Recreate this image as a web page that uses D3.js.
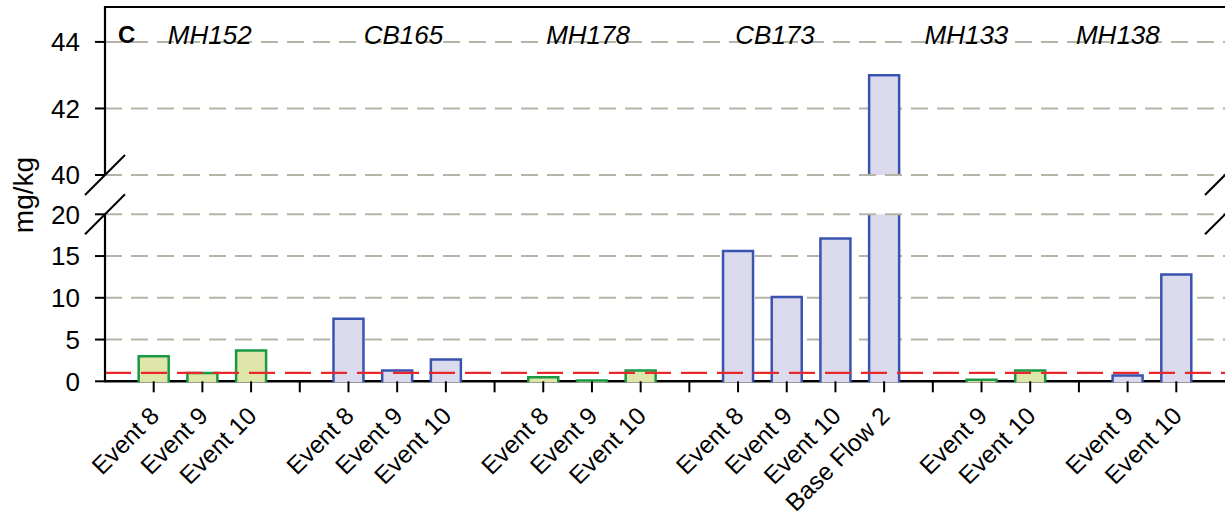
<!DOCTYPE html>
<html><head><meta charset="utf-8">
<script src="https://cdn.jsdelivr.net/npm/d3@7"></script>
<style>body{margin:0;background:#fff}svg{display:block;font-family:"Liberation Sans",Arial,sans-serif}</style>
</head><body>
<svg id="c" width="1225" height="518"></svg>
<script>
// ---- data ----
const groups = ["MH152","CB165","MH178","CB173","MH133","MH138"];
const groupType = ["green","blue","green","blue","green","blue"];
const groupEvents = [
  ["Event 8","Event 9","Event 10"],
  ["Event 8","Event 9","Event 10"],
  ["Event 8","Event 9","Event 10"],
  ["Event 8","Event 9","Event 10","Base Flow 2"],
  ["Event 9","Event 10"],
  ["Event 9","Event 10"]
];
const groupValues = [
  [3.0, 1.0, 3.7],
  [7.5, 1.3, 2.6],
  [0.5, 0.1, 1.3],
  [15.6, 10.1, 17.1, 43.0],
  [0.2, 1.3],
  [0.7, 12.8]
];
const lowerTicks = [0,5,10,15,20];
const upperTicks = [40,42,44];
const referenceLevel = 1;
const panelLabel = "C";
const yTitle = "mg/kg";

// ---- layout ----
const svg = d3.select("#c");
const L = 105, R = 1225, T = 7;
const colors = {
  green:{fill:"#dfe6a9", stroke:"#1a9945"},
  blue:{fill:"#dcdbee", stroke:"#3a53b0"}
};
const gridColor = "#b5b5a7";

// build slots
const slots = [{key:"start"}];
const bars = [];
groups.forEach((g,gi)=>{
  groupEvents[gi].forEach((ev,ei)=>{
    const key = g+"|"+ev;
    slots.push({key, label:ev});
    bars.push({key, group:g, type:groupType[gi], value:groupValues[gi][ei]});
  });
  if (gi < groups.length-1) slots.push({key:"gap"+gi, label:""});
});
slots.push({key:"end"});

const x = d3.scalePoint().domain(slots.map(s=>s.key)).range([L,R]);
const step = x.step();
const barW = 30;

const yLow = d3.scaleLinear().domain([0,20]).range([381.3,214.3]);
const yUp = d3.scaleLinear().domain([40,45.05]).range([175,7]);

function gridLine(yy){
  svg.append("line").attr("x1",L).attr("x2",R).attr("y1",yy).attr("y2",yy)
    .attr("stroke",gridColor).attr("stroke-width",2).attr("stroke-dasharray","17,9");
}
lowerTicks.filter(t=>t>0 && t<20).forEach(t=>gridLine(yLow(t)));
upperTicks.filter(t=>t>40).forEach(t=>gridLine(yUp(t)));

// baseline
svg.append("line").attr("x1",L).attr("x2",R).attr("y1",yLow(0)).attr("y2",yLow(0))
  .attr("stroke","#000").attr("stroke-width",2.5);

// bars
const bg = svg.append("g");
const sw = 2.5;
bars.forEach(b=>{
  const cx = x(b.key), x0 = cx-barW/2, x1 = cx+barW/2;
  const c = colors[b.type];
  const y0 = yLow(0)+1;
  if (b.value <= 20) {
    const yt = yLow(b.value);
    bg.append("path").attr("d",`M${x0},${y0}V${yt}H${x1}V${y0}`)
      .attr("fill",c.fill).attr("stroke",c.stroke).attr("stroke-width",sw);
  } else {
    bg.append("rect").attr("x",x0).attr("width",barW).attr("y",yLow(20)).attr("height",y0-yLow(20)).attr("fill",c.fill);
    bg.append("path").attr("d",`M${x0},${y0}V${yLow(20)}M${x1},${yLow(20)}V${y0}`)
      .attr("stroke",c.stroke).attr("stroke-width",sw);
    const yt = yUp(b.value);
    bg.append("rect").attr("x",x0).attr("width",barW).attr("y",yt).attr("height",yUp(40)-yt).attr("fill",c.fill);
    bg.append("path").attr("d",`M${x0},${yUp(40)}V${yt}H${x1}V${yUp(40)}`)
      .attr("fill","none").attr("stroke",c.stroke).attr("stroke-width",sw);
  }
});

// gridlines at break edges drawn over bars
gridLine(yUp(40));
gridLine(yLow(20));

// reference line
svg.append("line").attr("x1",L).attr("x2",R).attr("y1",yLow(referenceLevel)).attr("y2",yLow(referenceLevel))
  .attr("stroke","#e8282c").attr("stroke-width",2.2).attr("stroke-dasharray","26,10");

// axis lines
svg.append("path").attr("d",`M${L},${yUp(40)}V${T}H${R}`).attr("fill","none").attr("stroke","#000").attr("stroke-width",2.2);
svg.append("line").attr("x1",L).attr("x2",L).attr("y1",yLow(20)).attr("y2",yLow(0)+1).attr("stroke","#000").attr("stroke-width",2.2);

// break marks
[[L,yUp(40)],[L,yLow(20)],[R,yUp(40)],[R,yLow(20)]].forEach(([bx,by])=>{
  svg.append("line").attr("x1",bx-20).attr("y1",by+20).attr("x2",bx+20).attr("y2",by-20)
    .attr("stroke","#000").attr("stroke-width",2);
});

// y ticks
const yt = svg.append("g").attr("font-size",26);
function yTick(yy, t){
  yt.append("line").attr("x1",L-10).attr("x2",L).attr("y1",yy).attr("y2",yy).attr("stroke","#000").attr("stroke-width",2);
  yt.append("text").attr("x",L-25).attr("y",yy).attr("dy","0.36em").attr("text-anchor","end").text(t);
}
lowerTicks.forEach(t=>yTick(yLow(t),t));
upperTicks.forEach(t=>yTick(yUp(t),t));

// y title
svg.append("text").attr("transform",`translate(33,195) rotate(-90)`).attr("text-anchor","middle")
  .attr("font-size",28).text(yTitle);

// x ticks & labels
const xt = svg.append("g");
slots.filter(s=>s.key!=="start" && s.key!=="end").forEach(s=>{
  const sx = x(s.key);
  xt.append("line").attr("x1",sx).attr("x2",sx).attr("y1",yLow(0)).attr("y2",yLow(0)+11).attr("stroke","#000").attr("stroke-width",2);
  if (s.label) {
    xt.append("text").attr("transform",`translate(${sx+7},${yLow(0)+36}) rotate(-45)`)
      .attr("text-anchor","end").attr("font-size",24.5).text(s.label);
  }
});

// group labels (offset from first bar, in slot steps)
const labelOffset = [1.15, 1.13, 0.92, 0.76, -0.31, -0.2];
groups.forEach((g,gi)=>{
  const firstKey = g+"|"+groupEvents[gi][0];
  svg.append("text").attr("x", x(firstKey) + labelOffset[gi]*step).attr("y",44)
    .attr("text-anchor","middle").attr("font-style","italic").attr("font-size",26).text(g);
});

// panel label
svg.append("text").attr("x",118).attr("y",43).attr("font-weight","bold").attr("font-size",24).text(panelLabel);
</script>
</body></html>
